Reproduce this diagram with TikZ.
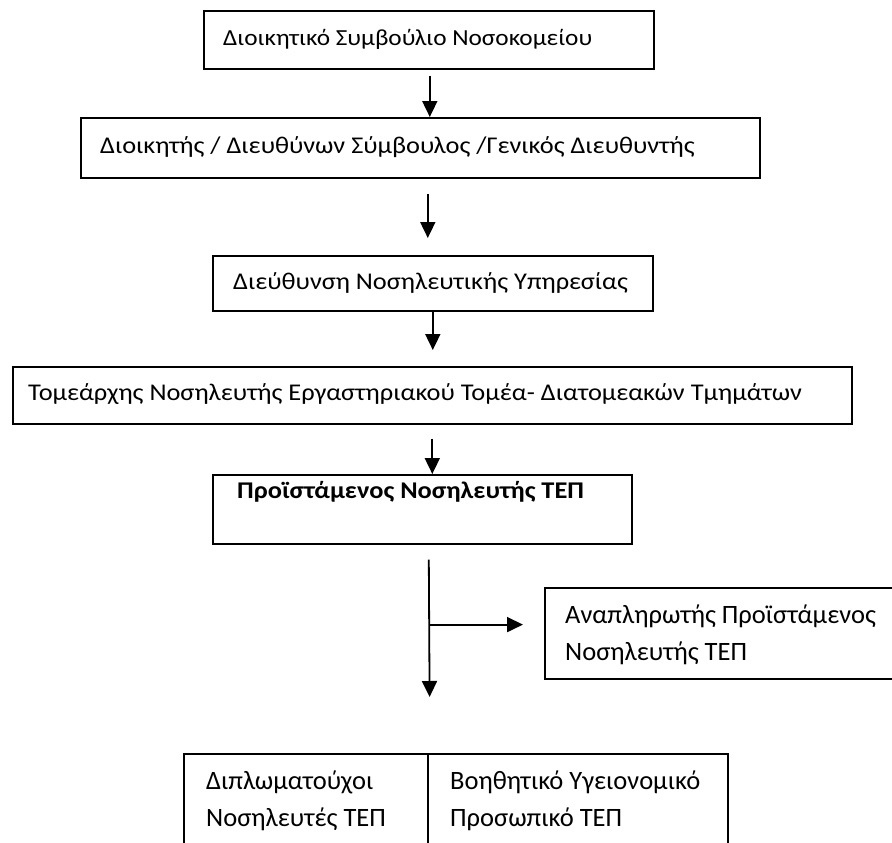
\documentclass[tikz,border=0pt]{standalone}
\usepackage{fontspec}
\setmainfont{Carlito}
\newfontfamily\widefont{Carlito}[FakeStretch=1.1]
\usetikzlibrary{arrows.meta,calc}
\begin{document}
\begin{tikzpicture}[x=1pt,y=-1pt,
  box/.style={draw, line width=1.6pt, anchor=north west, inner sep=0pt, align=left},
  txt/.style={anchor=west, inner sep=0pt, align=left, font=\fontsize{26.5}{37}\selectfont},
  wtxt/.style={txt, font=\widefont\fontsize{24}{37}\selectfont},
  arr/.style={line width=1.8pt, -{Triangle[width=15pt,length=16pt]}},
  ln/.style={line width=1.8pt}]
\useasboundingbox (0,0) rectangle (892,843);
\clip (0,0) rectangle (892,843);
% boxes
\node[box, minimum width=450pt, minimum height=58pt] (b1) at (203,10) {};
\node[box, minimum width=679pt, minimum height=60pt] (b2) at (80,117) {};
\node[box, minimum width=440pt, minimum height=55pt] (b3) at (212,255) {};
\node[box, minimum width=839pt, minimum height=57pt] (b4) at (12,366) {};
\node[box, minimum width=419pt, minimum height=69pt] (b5) at (212,474) {};
\node[box, minimum width=380pt, minimum height=91pt] (b6) at (544,587) {};
\node[box, minimum width=244pt, minimum height=130pt] (t1) at (183,753) {};
\node[box, minimum width=300pt, minimum height=130pt] (t2) at (427,753) {};
% texts
\node[wtxt, font=\widefont\fontsize{23}{37}\selectfont] (l1) at (223,39) {Διοικητικό Συμβούλιο Νοσοκομείου};
\node[wtxt] (l2) at (100,147) {Διοικητής / Διευθύνων Σύμβουλος /Γενικός Διευθυντής};
\node[wtxt] (l3) at (233,283) {Διεύθυνση Νοσηλευτικής Υπηρεσίας};
\node[wtxt] (l4) at (28,394) {Τομεάρχης Νοσηλευτής Εργαστηριακού Τομέα- Διατομεακών Τμημάτων};
\node[wtxt, font=\widefont\bfseries\fontsize{24}{37}\selectfont] (l5) at (237,492) {Προϊστάμενος Νοσηλευτής ΤΕΠ};
\node[txt] (l6) at (565,635) {Αναπληρωτής Προϊστάμενος\\Νοσηλευτής ΤΕΠ};
\node[txt] (l7) at (206,800.5) {Διπλωματούχοι\\Νοσηλευτές ΤΕΠ};
\node[txt] (l8) at (450,800.5) {Βοηθητικό Υγειονομικό\\Προσωπικό ΤΕΠ};
% connectors
\draw[arr] ([xshift=1pt,yshift=-6pt]b1.south) -- ([xshift=1pt]b1.south |- b2.north);
\draw[arr] ([xshift=7.5pt,yshift=-15pt]b2.south) -- ([xshift=-5pt,yshift=17pt]b3.north);
\draw[arr] (b3.south) -- ([yshift=16pt]b3.south |- b4.north);
\draw[arr] ([yshift=-14pt]b4.south) -- (b4.south |- b5.north);
\draw[arr] ([xshift=6.5pt,yshift=-15pt]b5.south) coordinate (v) -- ([xshift=1pt,yshift=56pt]t1.north east);
\coordinate (j) at ($(v)+(0,65)$);
\draw[arr] (j) -- ([xshift=-21pt]b6.west |- j);
\end{tikzpicture}
\end{document}
